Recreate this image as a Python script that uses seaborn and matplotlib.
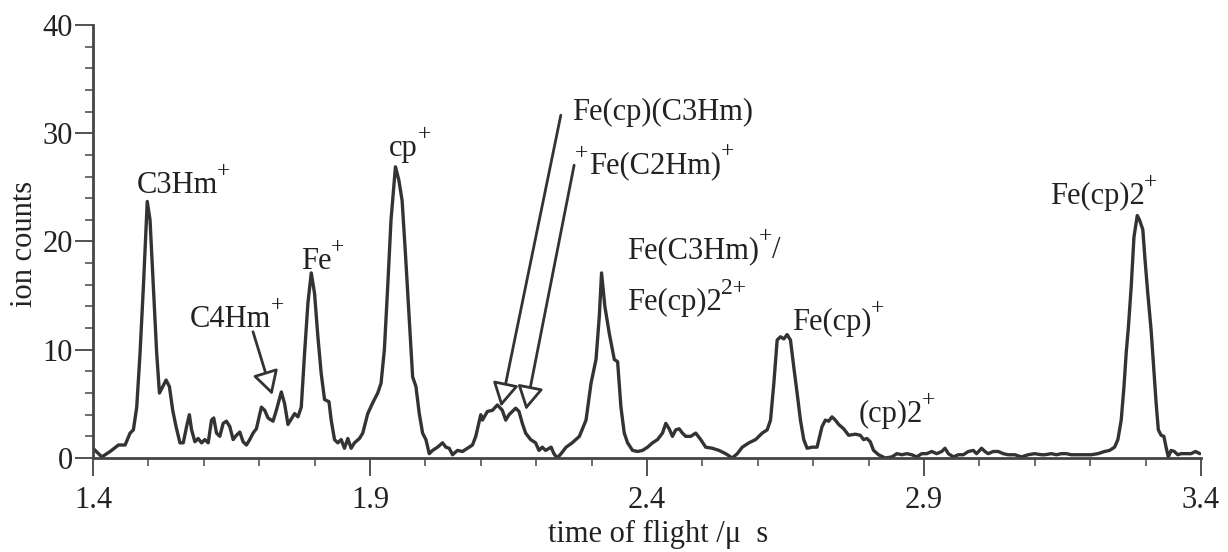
import matplotlib
matplotlib.use("Agg")
import matplotlib.pyplot as plt
import seaborn as sns
import pandas as pd

# time of flight (µs) and ion counts
tof = [1.400, 1.416, 1.431, 1.446, 1.458, 1.467, 1.473, 1.479, 1.485, 1.491,
       1.498, 1.503, 1.509, 1.515, 1.520, 1.526, 1.532, 1.538, 1.544, 1.550,
       1.557, 1.563, 1.569, 1.574, 1.578, 1.584, 1.590, 1.596, 1.602, 1.608,
       1.614, 1.618, 1.623, 1.629, 1.635, 1.641, 1.647, 1.653, 1.659, 1.665,
       1.671, 1.677, 1.683, 1.689, 1.695, 1.704, 1.710, 1.716, 1.725, 1.731,
       1.740, 1.746, 1.752, 1.764, 1.770, 1.776, 1.782, 1.788, 1.794, 1.800,
       1.806, 1.812, 1.818, 1.826, 1.830, 1.836, 1.842, 1.848, 1.854, 1.860,
       1.866, 1.872, 1.881, 1.887, 1.896, 1.905, 1.914, 1.920, 1.926, 1.932,
       1.938, 1.946, 1.952, 1.958, 1.964, 1.971, 1.977, 1.983, 1.989, 1.995,
       2.001, 2.007, 2.013, 2.022, 2.031, 2.037, 2.043, 2.049, 2.058, 2.067,
       2.076, 2.085, 2.091, 2.100, 2.103, 2.112, 2.121, 2.130, 2.139, 2.145,
       2.151, 2.157, 2.163, 2.169, 2.175, 2.181, 2.190, 2.199, 2.205, 2.211,
       2.217, 2.227, 2.232, 2.238, 2.245, 2.254, 2.265, 2.278, 2.290, 2.299,
       2.308, 2.314, 2.318, 2.324, 2.332, 2.341, 2.347, 2.353, 2.359, 2.365,
       2.374, 2.383, 2.392, 2.401, 2.410, 2.419, 2.428, 2.434, 2.440, 2.446,
       2.452, 2.458, 2.464, 2.470, 2.479, 2.488, 2.497, 2.506, 2.518, 2.530,
       2.542, 2.554, 2.563, 2.572, 2.584, 2.596, 2.608, 2.617, 2.623, 2.629,
       2.635, 2.641, 2.647, 2.653, 2.659, 2.665, 2.671, 2.677, 2.683, 2.689,
       2.698, 2.707, 2.716, 2.722, 2.728, 2.734, 2.740, 2.746, 2.755, 2.764,
       2.776, 2.785, 2.791, 2.797, 2.803, 2.809, 2.818, 2.830, 2.842, 2.851,
       2.860, 2.869, 2.878, 2.887, 2.896, 2.905, 2.914, 2.923, 2.932, 2.938,
       2.944, 2.953, 2.962, 2.971, 2.980, 2.989, 2.995, 3.004, 3.010, 3.016,
       3.025, 3.034, 3.043, 3.052, 3.064, 3.076, 3.088, 3.100, 3.112, 3.118,
       3.130, 3.139, 3.148, 3.157, 3.166, 3.178, 3.190, 3.202, 3.214, 3.226,
       3.235, 3.244, 3.250, 3.256, 3.261, 3.265, 3.269, 3.274, 3.279, 3.285,
       3.289, 3.295, 3.299, 3.304, 3.310, 3.315, 3.319, 3.323, 3.328, 3.333,
       3.337, 3.341, 3.346, 3.352, 3.358, 3.364, 3.373, 3.382, 3.390, 3.398]

counts = [0.9, 0.1, 0.6, 1.2, 1.2, 2.3, 2.6, 4.7, 9.7, 15.8,
          23.7, 22.0, 15.8, 9.7, 6.0, 6.6, 7.2, 6.6, 4.4, 2.9,
          1.4, 1.4, 2.9, 4.0, 2.6, 1.5, 1.8, 1.4, 1.7, 1.4,
          3.5, 3.7, 2.3, 2.0, 3.2, 3.4, 2.9, 1.7, 2.1, 2.4,
          1.5, 1.2, 1.7, 2.3, 2.7, 4.7, 4.4, 3.7, 3.4, 4.4,
          6.1, 5.0, 3.1, 4.1, 3.8, 4.7, 9.7, 14.3, 17.1, 15.2,
          11.2, 7.8, 5.4, 5.2, 3.5, 1.7, 1.4, 1.7, 0.9, 1.8,
          0.9, 1.4, 1.8, 2.3, 4.1, 5.1, 6.0, 6.9, 10.0, 15.8,
          22.0, 26.9, 25.7, 23.8, 18.9, 12.7, 7.5, 6.6, 4.1, 2.3,
          1.7, 0.4, 0.7, 1.0, 1.4, 1.0, 0.9, 0.3, 0.7, 0.6,
          0.9, 1.2, 2.0, 4.0, 3.5, 4.3, 4.4, 4.9, 4.4, 3.5,
          4.0, 4.3, 4.6, 4.3, 3.2, 2.3, 1.7, 1.4, 0.7, 1.0,
          0.7, 1.0, 0.4, 0.0, 0.4, 1.0, 1.4, 2.0, 3.5, 6.9,
          9.1, 13.1, 17.1, 14.0, 11.5, 9.1, 8.9, 4.7, 2.3, 1.4,
          0.7, 0.6, 0.7, 1.0, 1.4, 1.7, 2.3, 3.2, 2.7, 2.0,
          2.6, 2.7, 2.3, 2.0, 2.0, 2.3, 1.7, 1.0, 0.9, 0.7,
          0.4, 0.0, 0.4, 1.0, 1.4, 1.7, 2.3, 2.6, 3.5, 6.9,
          10.9, 11.2, 11.0, 11.4, 10.9, 8.4, 6.0, 3.5, 1.7, 0.9,
          1.0, 1.0, 2.9, 3.5, 3.4, 3.8, 3.5, 3.1, 2.7, 2.1,
          2.2, 2.1, 1.7, 1.8, 1.5, 0.7, 0.3, 0.0, 0.1, 0.4,
          0.3, 0.4, 0.3, 0.1, 0.4, 0.4, 0.6, 0.4, 0.6, 0.9,
          0.4, 0.1, 0.3, 0.3, 0.6, 0.7, 0.4, 0.9, 0.6, 0.4,
          0.6, 0.6, 0.4, 0.3, 0.3, 0.1, 0.3, 0.4, 0.3, 0.3,
          0.4, 0.3, 0.4, 0.4, 0.3, 0.3, 0.3, 0.3, 0.4, 0.6,
          0.7, 1.0, 1.7, 3.5, 6.6, 9.7, 12.1, 15.8, 20.4, 22.4,
          22.0, 21.1, 18.3, 15.2, 11.8, 8.1, 5.1, 2.6, 2.1, 2.0,
          1.0, 0.1, 0.7, 0.6, 0.3, 0.4, 0.4, 0.4, 0.6, 0.4]

# peak labels: main text, superscript after, superscript before, trailing text
label_main = ['C3Hm', 'C4Hm', 'Fe', 'cp', 'Fe(cp)(C3Hm)', 'Fe(C2Hm)',
              'Fe(C3Hm)', 'Fe(cp)2', 'Fe(cp)', '(cp)2', 'Fe(cp)2']
label_sup = ['+', '+', '+', '+', '', '+', '+', '2+', '+', '+', '+']
label_pre = ['', '', '', '', '', '+', '', '', '', '', '']
label_post = ['', '', '', '', '', '', '/', '', '', '', '']
label_x = [1.479, 1.575, 1.776, 1.935, 2.2654, 2.2955, 2.3645, 2.3645,
           2.6618, 2.782, 3.1274]
label_y = [24.44, 12.12, 17.45, 27.9, 31.2, 26.29, 18.44, 13.67, 11.82,
           3.35, 23.45]

# arrows: tail (x, y) -> tip (x, y)
arrow_tail_x = [1.6889, 2.2445, 2.2685]
arrow_tail_y = [11.66, 31.67, 27.05]
arrow_tip_x = [1.7238, 2.1364, 2.1814]
arrow_tip_y = [5.82, 4.74, 4.43]

x_ticks = [1.4, 1.9, 2.4, 2.9, 3.4]
y_ticks = [0, 10, 20, 30, 40]

sns.set_theme(style="ticks")
plt.rcParams['font.family'] = ['Liberation Serif', 'DejaVu Serif']

ink = '#333333'
txt = '#222222'
fig = plt.figure(figsize=(12.28, 5.52), dpi=100)
ax = fig.add_axes([0.0757, 0.1703, 0.9023, 0.7844])

df = pd.DataFrame({'tof': tof, 'counts': counts})
sns.lineplot(data=df, x='tof', y='counts', ax=ax, color=ink, linewidth=2.4,
             estimator=None, sort=False)

ax.set_xlim(1.4, 3.4)
ax.set_ylim(0, 40)
ax.set_xticks(x_ticks)
ax.set_xticklabels([f'{v:.1f}' for v in x_ticks])
ax.set_yticks(y_ticks)
ax.set_xticks([v / 10 for v in range(14, 35)], minor=True)
ax.set_yticks(list(range(0, 41, 2)), minor=True)
for s in ['top', 'right']:
    ax.spines[s].set_visible(False)
for s in ['left', 'bottom']:
    ax.spines[s].set_color('#444444')
    ax.spines[s].set_linewidth(2.0)
ax.tick_params(axis='both', which='major', length=13, width=1.3,
               color='#444444', labelsize=22, labelcolor=txt)
ax.tick_params(axis='x', which='major', pad=7)
ax.tick_params(axis='y', which='major', pad=1.5)
ax.tick_params(axis='both', which='minor', length=6, width=1.1,
               color='#444444')
ax.set_xlabel('time of flight /μ  s', fontsize=22, color=txt)
ax.xaxis.label.set_va('baseline')
ax.xaxis.set_label_coords(0.5097, -0.194)
ax.set_ylabel('ion counts', fontsize=22, color=txt)
ax.yaxis.set_label_coords(-0.049, 0.494)

renderer = fig.canvas.get_renderer()
pt_per_px = 72.0 / fig.dpi
SUP_SIZE = 17
RAISE = 11.5
for main, sup, pre, post, x, y in zip(label_main, label_sup, label_pre,
                                      label_post, label_x, label_y):
    t = ax.text(x, y, main, fontsize=22, ha='left', va='baseline', color=txt)
    w = t.get_window_extent(renderer).width * pt_per_px
    sup_w = 0
    if sup:
        s_art = ax.annotate(sup, xy=(x, y), xytext=(w - 0.5, RAISE),
                            textcoords='offset points', fontsize=SUP_SIZE,
                            ha='left', va='baseline', color=txt)
        sup_w = s_art.get_window_extent(renderer).width * pt_per_px
    if pre:
        ax.annotate(pre, xy=(x, y), xytext=(-0.5, RAISE - 1),
                    textcoords='offset points', fontsize=SUP_SIZE,
                    ha='right', va='baseline', color=txt)
    if post:
        ax.annotate(post, xy=(x, y), xytext=(w + sup_w - 0.5, 0),
                    textcoords='offset points', fontsize=22,
                    ha='left', va='baseline', color=txt)

for x0, y0, x1, y1 in zip(arrow_tail_x, arrow_tail_y, arrow_tip_x, arrow_tip_y):
    ax.annotate('', xy=(x1, y1), xytext=(x0, y0),
                arrowprops=dict(arrowstyle='-|>,head_length=0.9,head_width=0.5',
                                mutation_scale=16, fc='white', ec=ink, lw=2.0,
                                shrinkA=0, shrinkB=0))

fig.savefig('out.png', dpi=100)
